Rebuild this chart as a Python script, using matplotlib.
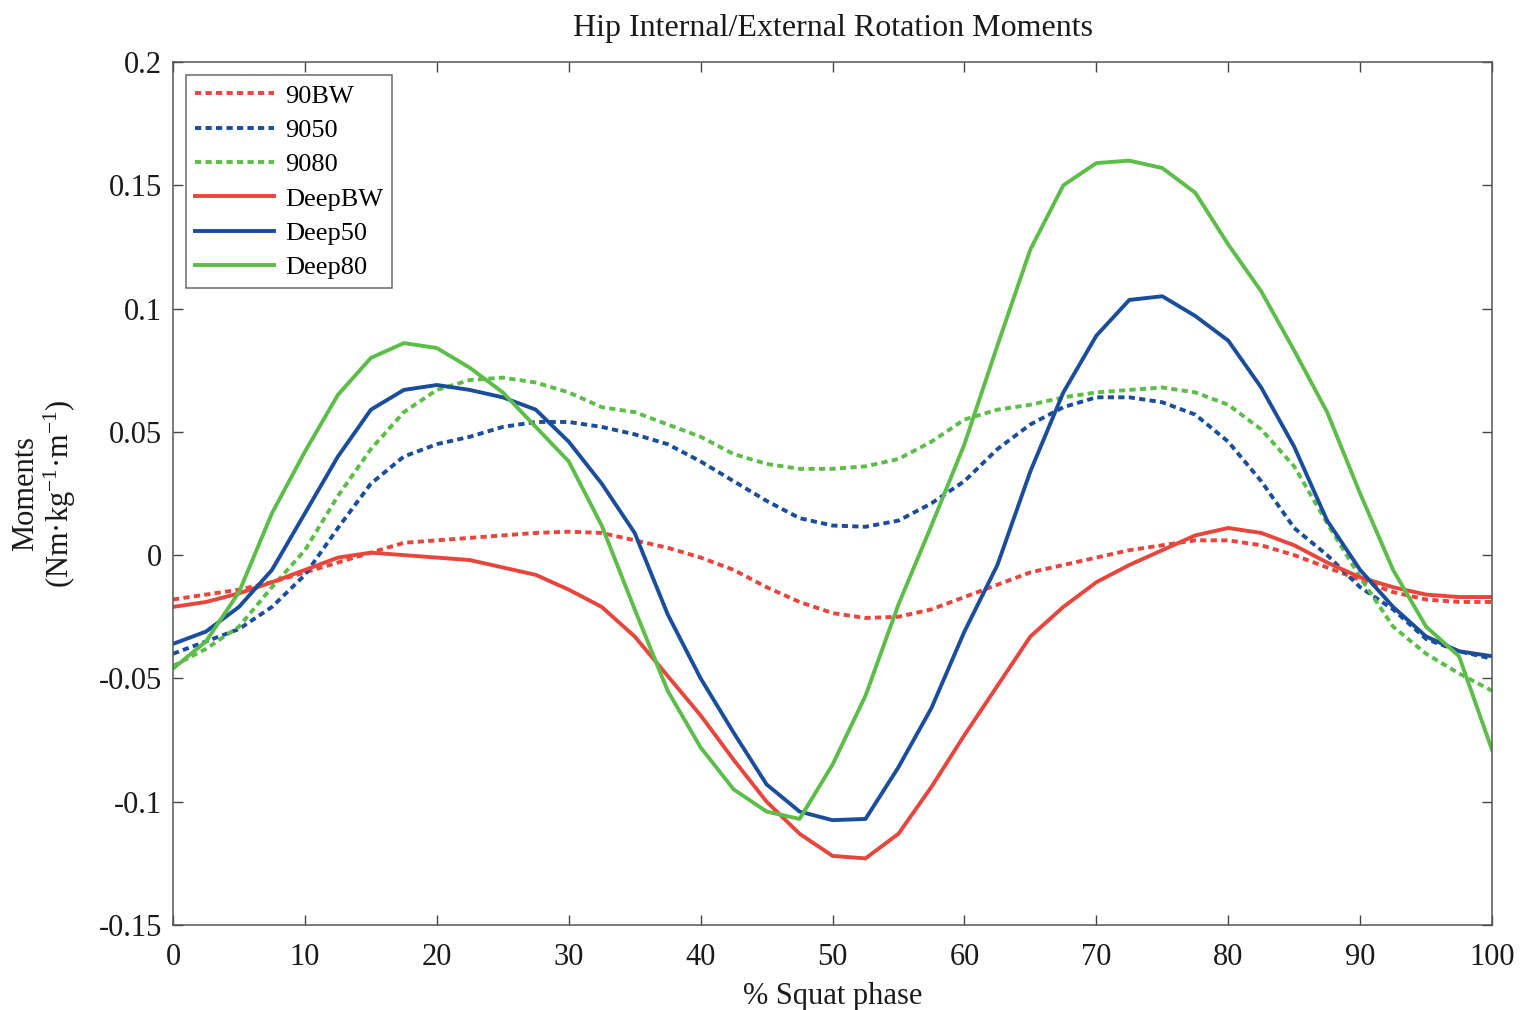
import matplotlib
matplotlib.use("Agg")
import matplotlib.pyplot as plt
import numpy as np

# % squat phase sampling
phase = np.arange(0, 100.01, 2.5)

# Hip internal/external rotation moments (Nm/kg/m)
m_90bw = [-0.018, -0.016, -0.014, -0.011, -0.007, -0.003, 0.001, 0.005, 0.006, 0.007,
          0.008, 0.009, 0.0095, 0.009, 0.006, 0.003, -0.001, -0.006, -0.013, -0.019,
          -0.0235, -0.0255, -0.025, -0.022, -0.017, -0.012, -0.007, -0.004, -0.001, 0.002,
          0.004, 0.006, 0.006, 0.004, 0.000, -0.005, -0.010, -0.015, -0.018, -0.019, -0.019]
m_9050 = [-0.040, -0.035, -0.030, -0.021, -0.008, 0.011, 0.029, 0.040, 0.045, 0.048,
          0.052, 0.054, 0.054, 0.052, 0.049, 0.045, 0.038, 0.030, 0.022, 0.015,
          0.012, 0.0115, 0.014, 0.021, 0.030, 0.043, 0.053, 0.060, 0.064, 0.064,
          0.062, 0.057, 0.046, 0.030, 0.011, 0.000, -0.013, -0.022, -0.034, -0.039, -0.042]
m_9080 = [-0.045, -0.038, -0.029, -0.013, 0.002, 0.024, 0.043, 0.058, 0.067, 0.071,
          0.072, 0.070, 0.066, 0.060, 0.058, 0.053, 0.048, 0.041, 0.037, 0.035,
          0.035, 0.036, 0.039, 0.046, 0.055, 0.059, 0.061, 0.064, 0.066, 0.067,
          0.068, 0.066, 0.061, 0.051, 0.036, 0.013, -0.009, -0.029, -0.040, -0.048, -0.055]
m_deepbw = [-0.021, -0.019, -0.0155, -0.011, -0.006, -0.001, 0.001, 0.000, -0.001, -0.002,
            -0.005, -0.008, -0.014, -0.021, -0.033, -0.049, -0.065, -0.083, -0.100, -0.113,
            -0.122, -0.123, -0.113, -0.094, -0.073, -0.053, -0.033, -0.021, -0.011, -0.004,
            0.002, 0.008, 0.011, 0.009, 0.004, -0.003, -0.009, -0.013, -0.016, -0.017, -0.017]
m_deep50 = [-0.036, -0.031, -0.021, -0.006, 0.017, 0.040, 0.059, 0.067, 0.069, 0.067,
            0.064, 0.059, 0.046, 0.029, 0.009, -0.024, -0.050, -0.072, -0.093, -0.104,
            -0.1075, -0.107, -0.086, -0.062, -0.031, -0.004, 0.034, 0.066, 0.089, 0.1035,
            0.105, 0.097, 0.087, 0.068, 0.044, 0.014, -0.006, -0.021, -0.033, -0.039, -0.041]
m_deep80 = [-0.046, -0.035, -0.015, 0.017, 0.042, 0.065, 0.080, 0.086, 0.084, 0.076,
            0.066, 0.052, 0.038, 0.012, -0.022, -0.055, -0.078, -0.095, -0.104, -0.107,
            -0.085, -0.057, -0.020, 0.012, 0.045, 0.085, 0.124, 0.150, 0.159, 0.160,
            0.157, 0.147, 0.126, 0.107, 0.083, 0.058, 0.025, -0.006, -0.029, -0.041, -0.079]

labels = ["90BW", "9050", "9080", "DeepBW", "Deep50", "Deep80"]
yticks = [0.2, 0.15, 0.1, 0.05, 0, -0.05, -0.1, -0.15]
ytick_labels = ["0.2", "0.15", "0.1", "0.05", "0", "-0.05", "-0.1", "-0.15"]
xticks = [0, 10, 20, 30, 40, 50, 60, 70, 80, 90, 100]

RED = "#e8453c"
BLUE = "#1a4d9c"
GREEN = "#5cbd48"

plt.rcParams["font.family"] = ["Liberation Serif", "DejaVu Serif"]
plt.rcParams["mathtext.fontset"] = "custom"
plt.rcParams["mathtext.rm"] = "Liberation Serif"
plt.rcParams["mathtext.it"] = "Liberation Serif:italic"

fig = plt.figure(figsize=(15.22, 10.10), dpi=100)
ax = fig.add_axes([0.1137, 0.0842, 0.8666, 0.8544])

dot = (0, (1.6, 1.1))
series = [
    (m_90bw, RED, dot),
    (m_9050, BLUE, dot),
    (m_9080, GREEN, dot),
    (m_deepbw, RED, "-"),
    (m_deep50, BLUE, "-"),
    (m_deep80, GREEN, "-"),
]
for (vals, col, ls), lab in zip(series, labels):
    ax.plot(phase, vals, color=col, linestyle=ls, linewidth=2.8, label=lab,
            solid_joinstyle="round")

ax.set_xlim(0, 100)
ax.set_ylim(-0.15, 0.2)
ax.set_xticks(xticks)
ax.set_xticklabels([str(t) for t in xticks])
ax.set_yticks(yticks)
ax.set_yticklabels(ytick_labels)
ax.tick_params(direction="in", length=7, width=1.0, top=True, right=True,
               labelsize=22, colors="#444444", labelcolor="#1a1a1a")
ax.tick_params(axis="x", pad=13)
ax.tick_params(axis="y", pad=8)
for sp in ax.spines.values():
    sp.set_color("#555555")
    sp.set_linewidth(1.1)

ax.set_title("Hip Internal/External Rotation Moments", fontsize=23, pad=19, color="#1a1a1a")
ax.set_xlabel("% Squat phase", fontsize=22, labelpad=7, color="#1a1a1a")
ax.set_ylabel("Moments\n(Nm·kg$^{-1}$·m$^{-1}$)", fontsize=22, labelpad=15,
              color="#1a1a1a", linespacing=1.05)

leg = ax.legend(loc="upper left", bbox_to_anchor=(0.0098, 0.985), fontsize=19,
                frameon=True, fancybox=False, handlelength=3.0, handletextpad=0.4,
                labelspacing=0.41, borderpad=0.35, borderaxespad=0.0)
leg.get_frame().set_edgecolor("#444444")
leg.get_frame().set_linewidth(1.1)

fig.savefig("out.png", dpi=100, facecolor="white")
